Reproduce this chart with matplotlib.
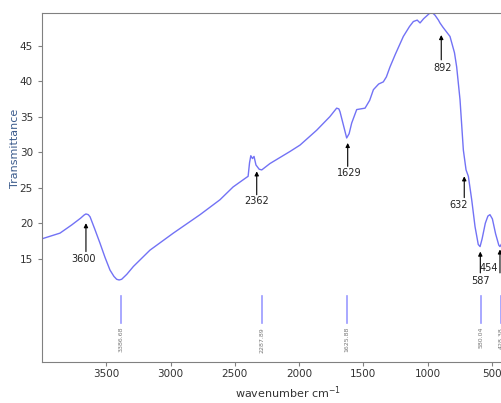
import numpy as np
import matplotlib.pyplot as plt

# IR spectrum: wavenumber (cm-1) and transmittance
wavenumber = [4000, 3860, 3769, 3700, 3672, 3658, 3640, 3626, 3590, 3549,
              3510, 3471, 3440, 3419, 3400, 3380, 3340, 3289, 3160, 2978,
              2770, 2615, 2513, 2420, 2396, 2385, 2375, 2362, 2350, 2335,
              2310, 2290, 2226, 2070, 1992, 1862, 1760, 1707, 1690, 1681,
              1650, 1629, 1610, 1590, 1551, 1486, 1450, 1421, 1380, 1344,
              1320, 1292, 1250, 1188, 1140, 1110, 1080, 1058, 1030, 981,
              960, 942, 915, 903, 880, 825, 790, 773, 747, 721,
              700, 682, 656, 630, 605, 591, 575, 550, 530, 514,
              495, 470, 445, 436, 420, 400]
transmittance = [17.8, 18.6, 19.75, 20.7, 21.15, 21.3, 21.2, 20.9, 19.2, 17.2,
                 15.2, 13.4, 12.5, 12.1, 12.0, 12.1, 12.8, 13.9, 16.2, 18.6,
                 21.2, 23.3, 25.1, 26.3, 26.6, 28.5, 29.5, 29.1, 29.4, 28.2,
                 27.6, 27.5, 28.4, 30.1, 31.0, 33.1, 35.0, 36.2, 36.1, 35.7,
                 33.5, 32.0, 32.6, 34.1, 36.0, 36.2, 37.3, 38.8, 39.6, 39.9,
                 40.6, 42.0, 43.8, 46.3, 47.7, 48.4, 48.6, 48.2, 48.8, 49.6,
                 49.6, 49.3, 48.6, 48.2, 47.6, 46.3, 44.0, 42.0, 37.4, 30.3,
                 27.5, 26.6, 23.3, 19.5, 17.0, 16.7, 17.8, 20.0, 21.0, 21.2,
                 20.6, 18.5, 16.9, 16.7, 17.2, 17.5]

# arrow annotations (label, arrow x, tip, tail, text position)
ann_labels = ['3600', '2362', '1629', '892', '632', '587', '454']
ann_x = [3658, 2329, 1621, 893, 714, 589, 436]
ann_tip = [20.0, 27.3, 31.3, 46.5, 26.6, 16.0, 16.3]
ann_tail = [16.0, 24.0, 28.0, 43.0, 23.6, 13.0, 13.0]
ann_text_x = [3673, 2329, 1611, 882, 755, 591, 522]
ann_text_y = [14.9, 23.1, 27.0, 41.9, 22.6, 11.9, 13.7]

# peak picking marks along the bottom
pk_labels = ['3386.68', '2287.89', '1625.88', '580.04', '428.38']

fig = plt.figure(figsize=(5.02, 4.03), dpi=100)
ax = fig.add_axes([42/502, 41/403, 462.6/502, 349/403])

ax.plot(wavenumber, transmittance, color='#7272f5', lw=1.0)

for lab, x, tip, tail, tx, ty in zip(ann_labels, ann_x, ann_tip, ann_tail,
                                     ann_text_x, ann_text_y):
    ax.annotate('', xy=(x, tip), xytext=(x, tail),
                arrowprops=dict(arrowstyle='-|>', color='black', lw=0.8,
                                mutation_scale=6, shrinkA=0, shrinkB=0))
    ax.text(tx, ty, lab, ha='center', va='center', fontsize=7, color='#222222')

for lab in pk_labels:
    x = float(lab)
    ax.plot([x, x], [6.0, 9.7], color='#9a9aff', lw=1.2)
    ax.text(x, 5.4, lab, rotation=90, ha='center', va='top',
            fontsize=4.5, color='#777777')

ax.set_xlim(4000, 400)
ax.set_ylim(0.45, 49.6)
ax.set_xticks([3500, 3000, 2500, 2000, 1500, 1000, 500])
ax.set_yticks([15, 20, 25, 30, 35, 40, 45])

for side in ['left', 'bottom', 'top']:
    ax.spines[side].set_color('#808080')
ax.spines['right'].set_visible(False)
ax.tick_params(axis='both', colors='#808080', labelcolor='#333333',
               labelsize=7.5, length=3)
ax.tick_params(axis='x', pad=2)
ax.tick_params(axis='y', pad=3.5)

ax.set_xlabel('wavenumber cm$^{-1}$', fontsize=8, color='#333333')
ax.xaxis.set_label_coords((288 - 42) / 462.6, -22 / 349)
ax.set_ylabel('Transmittance', fontsize=8, color='#3b5b8c')
ax.yaxis.set_label_coords(-22 / 462.6, (362 - 148) / 349)

fig.savefig('out.png', dpi=100)
